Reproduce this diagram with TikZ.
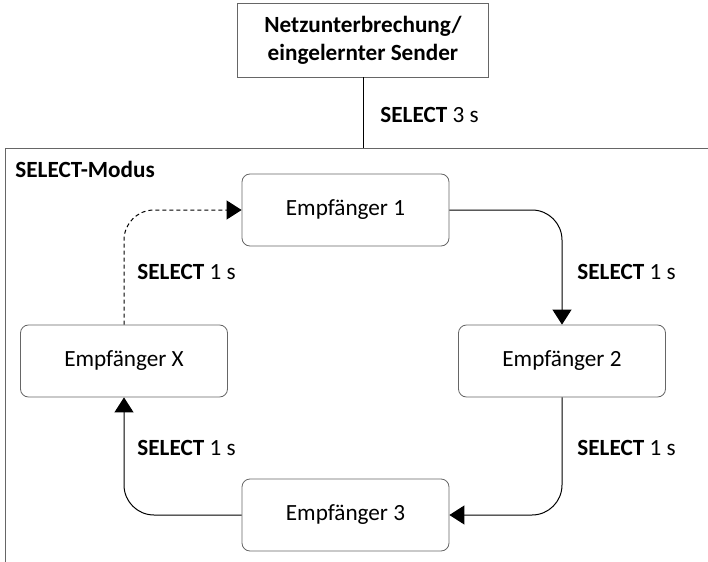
\documentclass[tikz,border=0pt]{standalone}
\usepackage{fontspec}
\setmainfont{Carlito}
\usetikzlibrary{arrows.meta}
\tikzset{
    receiver/.style={draw=black!60, rounded corners=4pt, minimum width=103.5pt, minimum height=36pt, inner sep=0pt},
    flow/.style={-{Triangle[length=7.5pt,width=9.5pt]}, rounded corners=15pt, line width=0.5pt},
    steplabel/.style={anchor=west, inner sep=0pt},
}
\begin{document}
\begin{tikzpicture}[x=0.5pt, y=-0.5pt, font=\fontsize{11.6}{14}\selectfont]
        \useasboundingbox (0,0) rectangle (708,562);

        % Starting condition at the top
        \node[draw=black!60, minimum width=125.5pt, minimum height=37pt, align=center,
              font=\fontsize{11.6}{14}\selectfont\bfseries] (start) at (363,40)
            {Netzunterbrechung/\\eingelernter Sender};

        % Frame of the mode (open to the right and bottom)
        \coordinate (modetop) at (363,148);
        \draw[black!60, line width=0.5pt] (708,148) -- (5,148) -- (5,562);
        \node[anchor=west, inner sep=0pt, font=\fontsize{11.6}{14}\selectfont\bfseries] (modus) at (15,169) {SELECT-Modus};

        % Enter the mode
        \draw[line width=0.5pt] (start) -- (modetop);
        \node[steplabel] (enter) at (380,115) {\textbf{SELECT} 3 s};

        % The receivers in the cycle
        \node[receiver] (e1) at (345.5,210) {Empfänger 1};
        \node[receiver] (e2) at (562,361) {Empfänger 2};
        \node[receiver] (e3) at (345.5,515) {Empfänger 3};
        \node[receiver] (ex) at (124,361) {Empfänger X};

        % Step from one receiver to the next
        \draw[flow] (e1) -| (e2);
        \draw[flow] (e2) |- (e3);
        \draw[flow] (e3) -| (ex);
        \draw[flow, dash pattern=on 2pt off 1.5pt] (ex) |- (e1);

        % Labels of the steps
        \node[steplabel] (s12) at (577,272) {\textbf{SELECT} 1 s};
        \node[steplabel] (s23) at (577,448) {\textbf{SELECT} 1 s};
        \node[steplabel] (s3x) at (137,448) {\textbf{SELECT} 1 s};
        \node[steplabel] (sx1) at (137,272) {\textbf{SELECT} 1 s};
    \end{tikzpicture}
\end{document}
